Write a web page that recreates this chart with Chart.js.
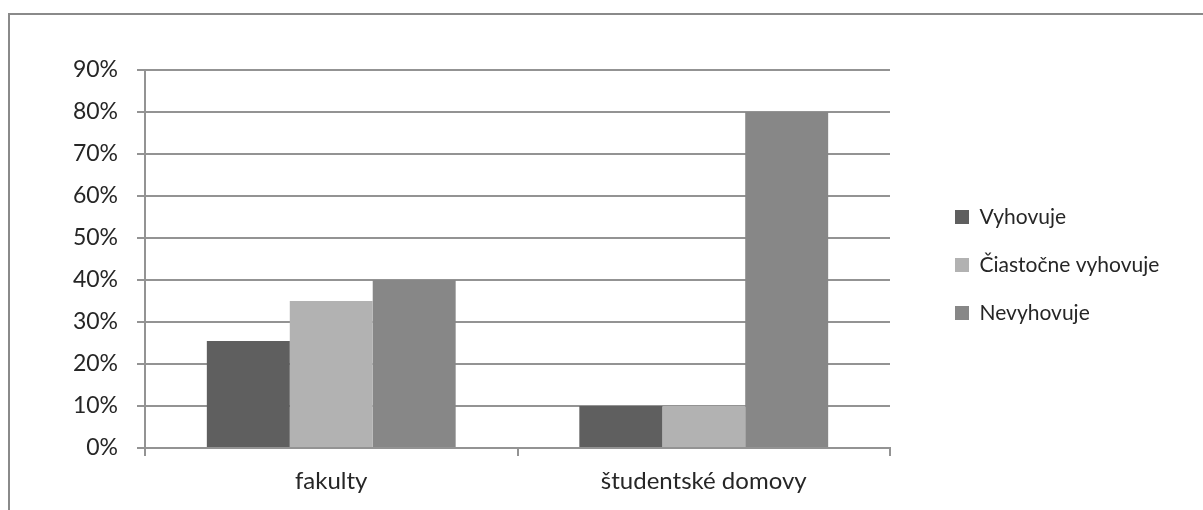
<!DOCTYPE html>
<html>
<head>
<meta charset="utf-8">
<script src="https://cdn.jsdelivr.net/npm/chart.js@4"></script>
<style>
  html, body { margin: 0; padding: 0; background: #fff; }
  #wrap { position: relative; width: 1203px; height: 510px; overflow: hidden; }
  #frame {
    position: absolute; left: 8px; top: 13px; width: 1300px; height: 600px;
    border-top: 2px solid #8a8a8a; border-left: 2px solid #8a8a8a;
  }
  canvas { position: absolute; left: 0; top: 0; }
</style>
</head>
<body>
<div id="wrap">
  <div id="frame"></div>
  <canvas id="c" width="1203" height="510"></canvas>
</div>
<script>
// Categories and series (percent of respondents)
const categories = ['fakulty', 'študentské domovy'];
const seriesNames = ['Vyhovuje', 'Čiastočne vyhovuje', 'Nevyhovuje'];
const vyhovuje = [25.5, 10];
const ciastocneVyhovuje = [35, 10];
const nevyhovuje = [40, 80];
const yTicks = [0, 10, 20, 30, 40, 50, 60, 70, 80, 90];

const colors = ['#5f5f5f', '#b2b2b2', '#878787'];
const lineColor = '#939393';
const textColor = '#262626';
const family = 'Lato, "Open Sans", sans-serif';
const yFont = { family, size: 23 };
const xFont = { family, size: 24 };
const legendFont = { family, size: 21 };

// Lift the legend block so it sits a little above the plot's middle
const legendLift = {
  id: 'legendLift',
  afterLayout(chart) {
    const lg = chart.legend;
    if (lg) { lg.top -= 25; lg.bottom -= 25; }
  }
};

new Chart(document.getElementById('c'), {
  type: 'bar',
  data: {
    labels: categories,
    datasets: [vyhovuje, ciastocneVyhovuje, nevyhovuje].map((values, i) => ({
      label: seriesNames[i],
      data: values,
      backgroundColor: colors[i],
      borderWidth: 0,
      categoryPercentage: 0.668,
      barPercentage: 1.0
    }))
  },
  plugins: [legendLift],
  options: {
    responsive: false,
    animation: false,
    devicePixelRatio: 1,
    layout: { padding: { left: 0, top: 70, right: 35, bottom: 0 } },
    plugins: {
      tooltip: { enabled: false },
      legend: {
        position: 'right',
        maxWidth: 240,
        labels: {
          boxWidth: 14,
          boxHeight: 14,
          padding: 27,
          color: textColor,
          font: legendFont
        }
      }
    },
    scales: {
      x: {
        grid: {
          offset: true,
          drawOnChartArea: false,
          drawTicks: true,
          tickLength: 8,
          color: lineColor,
          lineWidth: 2
        },
        border: { color: lineColor, width: 2 },
        ticks: { color: textColor, font: xFont, padding: 11, maxRotation: 0, autoSkip: false },
        afterFit: (s) => { s.height = 62; }
      },
      y: {
        min: 0,
        max: 90,
        afterBuildTicks: (s) => { s.ticks = yTicks.map(v => ({ value: v })); },
        grid: {
          color: lineColor,
          lineWidth: 2,
          drawTicks: true,
          tickLength: 8
        },
        border: { color: lineColor, width: 2 },
        ticks: {
          color: textColor,
          font: yFont,
          padding: 19,
          callback: (v) => v + '%'
        },
        afterFit: (s) => { s.width = 145; }
      },
      gap: {
        position: 'right',
        display: true,
        grid: { display: false },
        border: { display: false },
        ticks: { display: false },
        afterFit: (s) => { s.width = 38; }
      }
    }
  }
});
</script>
</body>
</html>
